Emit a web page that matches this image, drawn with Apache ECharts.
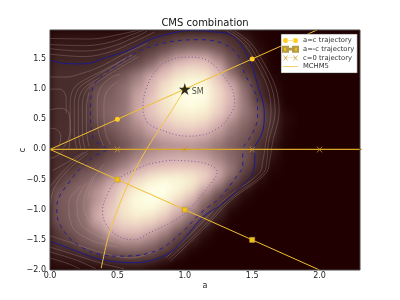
<!DOCTYPE html>
<html>
<head>
<meta charset="utf-8">
<style>html,body{margin:0;padding:0;background:#fff}#c{width:400px;height:300px}</style>
<script src="https://cdn.jsdelivr.net/npm/echarts@6/dist/echarts.min.js"></script>
</head>
<body>
<div id="c"></div>
<script>
const titleText = 'CMS combination';
const xTicks = [0, 0.5, 1, 1.5, 2];
const aCells = ['0.05','0.15','0.25','0.35','0.45','0.55','0.65','0.75','0.85','0.95','1.05','1.15','1.25','1.35','1.45','1.55','1.65','1.75','1.85','1.95','2.05','2.15','2.25'];
const cCells = ['-1.95','-1.85','-1.75','-1.65','-1.55','-1.45','-1.35','-1.25','-1.15','-1.05','-0.95','-0.85','-0.75','-0.65','-0.55','-0.45','-0.35','-0.25','-0.15','-0.05','0.05','0.15','0.25','0.35','0.45','0.55','0.65','0.75','0.85','0.95','1.05','1.15','1.25','1.35','1.45','1.55','1.65','1.75','1.85','1.95'];
// intensity cells, rows top (c=1.95) to bottom (c=0.05); columns a=0.05, 0.15, ...
const zUpper = [
[3,3,3,3,3,3,4,6,9,12,13,13,12,8,3,1],
[4,4,4,4,4,5,7,10,14,20,22,22,20,12,5,1],
[5,5,5,5,6,8,10,14,20,27,30,29,25,15,8,2],
[6,6,6,6,7,10,14,20,28,36,40,38,31,20,9,3],
[7,7,7,7,10,12,18,26,38,52,59,58,42,26,11,4],
[8,8,8,9,11,15,24,34,50,64,70,68,52,30,13,4],
[9,9,10,10,14,24,30,42,62,74,80,78,63,34,16,6],
[10,10,11,12,22,30,42,58,68,82,88,86,68,38,20,7,1],
[10,11,11,14,26,33,44,60,78,90,96,93,72,53,29,10,2],
[10,10,12,26,30,37,50,64,82,94,99,96,78,58,34,12,3],
[10,10,12,27,31,38,54,66,85,96,100,98,80,62,37,14,4],
[10,10,12,27,31,38,56,70,86,97,100,98,80,63,38,15,4],
[10,10,13,28,33,38,56,70,84,94,98,94,78,60,40,24,7],
[10,11,14,27,34,40,58,70,82,91,94,90,76,58,40,26,9,1],
[10,11,14,27,33,39,54,68,78,86,88,84,70,54,38,28,12,2],
[11,11,14,24,32,38,50,60,72,80,82,78,62,46,34,26,10,2],
[11,12,13,20,28,36,46,58,66,72,74,68,56,42,32,22,9,1],
[11,12,12,18,26,33,42,52,60,65,66,62,50,38,30,20,8,1],
[11,11,12,14,22,30,38,46,52,56,57,52,44,34,28,16,6,1],
[11,11,11,13,20,26,36,42,46,48,48,45,38,32,24,12,4]
];
// rows top (c=-0.05) to bottom (c=-1.95)
const zLower = [
[11,11,11,14,24,32,42,50,54,55,54,50,42,34,28,12,4],
[11,11,12,19,28,36,46,54,60,62,60,56,46,35,27,11,3],
[11,11,18,26,33,42,54,60,64,66,66,62,50,38,25,9,2],
[12,16,27,30,38,50,62,72,78,80,78,72,58,40,20,7,1],
[14,24,30,36,48,60,74,84,90,90,86,76,56,34,14,4],
[16,28,33,42,57,70,84,94,99,96,88,70,48,26,9,2],
[26,31,36,48,62,78,90,98,100,94,82,58,36,16,5,1],
[28,32,38,52,64,82,95,100,98,88,72,46,26,10,2],
[29,32,38,50,68,86,97,100,94,80,62,36,20,6,1],
[28,31,38,55,70,86,96,97,88,68,52,30,13,3],
[27,31,37,58,72,85,92,90,78,60,42,26,9,1],
[28,31,37,58,70,82,86,82,70,52,34,18,5],
[24,30,36,52,68,76,78,72,58,42,26,10,2],
[18,28,33,44,60,68,68,60,48,30,16,4],
[15,24,31,38,50,58,60,50,38,24,10,2],
[13,18,29,33,40,46,46,40,30,16,5,1],
[12,13,21,29,33,36,36,32,22,8,2],
[5,6,10,14,22,28,28,24,12,4],
[4,4,5,6,9,12,12,8,4,1],
[3,3,3,4,5,6,6,3,1]
];
// blue likelihood contours
const solidUpper = [[0,1.48],[0.15,1.42],[0.26,1.42],[0.41,1.52],[0.59,1.65],[0.74,1.82],[0.89,1.92],[1.04,1.97],[1.22,1.95],[1.36,1.87],[1.48,1.48],[1.54,1.07],[1.59,0.6],[1.58,0.32],[1.51,0.02]];
const solidLower = [[0,-1.52],[0.19,-1.68],[0.37,-1.82],[0.62,-1.88],[0.87,-1.74],[0.99,-1.5],[1.13,-1.13],[1.26,-0.93],[1.41,-0.63],[1.51,-0.35],[1.52,-0.1],[1.51,0.02]];
const dashedUpper = [[0.42,0.02],[0.32,0.2],[0.3,0.65],[0.32,1.03],[0.5,1.4],[0.74,1.7],[1.11,1.82],[1.36,1.65],[1.45,1.23],[1.54,0.77],[1.54,0.53],[1.43,0.03]];
const dashedLower = [[0.42,-0.02],[0.32,-0.13],[0.15,-0.52],[0.05,-0.97],[0.07,-1.23],[0.24,-1.63],[0.5,-1.77],[0.79,-1.68],[0.99,-1.35],[1.11,-1.07],[1.26,-0.8],[1.39,-0.43],[1.43,-0.27],[1.43,-0.02]];
const dottedUpper = [[0.72,0.45],[0.69,0.65],[0.71,0.98],[0.79,1.32],[0.89,1.48],[1.02,1.53],[1.11,1.52],[1.31,1.15],[1.37,0.77],[1.32,0.52],[1.26,0.37],[1.11,0.23],[1.02,0.22],[0.79,0.35],[0.72,0.45]];
const dottedLower = [[0.89,-0.18],[0.74,-0.24],[0.67,-0.3],[0.5,-0.5],[0.43,-0.73],[0.39,-1.02],[0.41,-1.22],[0.5,-1.43],[0.62,-1.5],[0.74,-1.38],[0.89,-1.22],[1.02,-1.02],[1.21,-0.52],[1.24,-0.38],[1.13,-0.22],[0.89,-0.18]];
// pale background contours
const paleContours = [
[[0,1.84],[0.3,1.83],[0.5,1.9],[0.66,1.98]],
[[0,1.74],[0.25,1.72],[0.45,1.78],[0.6,1.9],[0.7,1.98]],
[[0,1.67],[0.25,1.63],[0.45,1.7],[0.62,1.85],[0.72,1.96]],
[[0,1.58],[0.25,1.54],[0.45,1.62],[0.62,1.78],[0.78,1.95]],
[[0,1.2],[0.12,1.2],[0.22,1.25],[0.36,1.36],[0.55,1.58],[0.72,1.76]],
[[0.14,0],[0.15,0.3],[0.15,0.75],[0.18,1.02],[0.28,1.18],[0.42,1.34],[0.6,1.56]],
[[0.2,0],[0.18,0.3],[0.18,0.7],[0.21,1],[0.31,1.17],[0.45,1.36],[0.62,1.58]],
[[0.23,0],[0.21,0.3],[0.21,0.7],[0.24,0.98],[0.34,1.15],[0.47,1.34],[0.64,1.56]],
[[0.26,0],[0.24,0.3],[0.24,0.7],[0.27,0.98],[0.37,1.14],[0.5,1.33],[0.66,1.54]],
[[0.29,0.05],[0.27,0.35],[0.27,0.7],[0.29,0.94]],
[[0.4,0.05],[0.36,0.3],[0.35,0.7],[0.37,1.0],[0.46,1.2],[0.52,1.24]],
[[0.45,0.08],[0.41,0.3],[0.4,0.7],[0.42,0.95],[0.5,1.12]],
[[0,0.66],[0.08,0.68],[0.14,0.6],[0.15,0.3],[0.1,0.03]],
[[0,0.35],[0.05,0.33],[0.08,0.2],[0.06,0.02]],
[[0,1],[0.07,1],[0.12,0.85],[0.12,0.6]],
[[1.36,1.98],[1.53,1.65],[1.7,0.65],[1.65,0.1],[1.63,-0.18],[1.6,-0.4],[1.34,-0.85],[1.14,-1.32],[0.89,-1.86]],
[[1.33,1.98],[1.5,1.66],[1.67,0.65],[1.62,0.1],[1.61,-0.18],[1.58,-0.4],[1.32,-0.85],[1.12,-1.32],[0.88,-1.82]],
[[1.3,1.98],[1.47,1.66],[1.64,0.65],[1.6,0.1],[1.58,-0.18],[1.55,-0.4],[1.3,-0.82],[1.1,-1.28],[0.86,-1.8]],
[[0,-1.62],[0.2,-1.76],[0.4,-1.9],[0.55,-1.98]],
[[0,-1.7],[0.2,-1.84],[0.34,-1.98]],
[[0,-1.8],[0.14,-1.9],[0.22,-1.98]],
[[0,-1.43],[0.2,-1.58],[0.4,-1.72],[0.6,-1.8],[0.8,-1.66]],
[[0.02,-0.35],[0.1,-0.25],[0.25,-0.05]],
[[0,-0.62],[0.09,-0.38],[0.2,-0.15],[0.28,-0.03]],
[[0,-0.15],[0.06,-0.1],[0.1,-0.02]],
[[0,-0.95],[0.03,-0.65],[0.13,-0.35],[0.28,-0.07]],
[[0.23,-0.6],[0.14,-0.9],[0.16,-1.25],[0.3,-1.5],[0.5,-1.62]],
[[0.27,-0.55],[0.2,-0.9],[0.22,-1.2],[0.34,-1.42],[0.52,-1.55]],
[[0.32,-0.45],[0.25,-0.9],[0.28,-1.15],[0.38,-1.35]],
[[0.4,-0.25],[0.32,-0.5],[0.28,-0.82]]
];
// trajectories
const ac = [[0,0],[0.5,0.5],[1,1],[1.5,1.5],[2,2]];
const amc = [[0,0],[0.5,-0.5],[1,-1],[1.5,-1.5],[2,-2]];
const c0 = [[0,0],[0.5,0],[1,0],[1.5,0],[2,0],[2.6,0]];
const mchm5 = [[0.38,-1.97],[0.445,-1.35],[0.58,-0.57],[0.71,-0.02],[0.89,0.6],[1,1]];
const smPoint = [[1,1]];

const heat = [];
zUpper.forEach((row, i) => row.forEach((v, j) => heat.push([j, 39 - i, v])));
zLower.forEach((row, i) => row.forEach((v, j) => heat.push([j, 19 - i, v])));

const lineBase = {type:'line', xAxisIndex:0, yAxisIndex:0, zlevel:1, silent:true, symbol:'none', animation:false};
const pale = paleContours.map(d => Object.assign({}, lineBase, {data:d, smooth:0.4, z:2, lineStyle:{color:'rgba(190,165,155,0.42)', width:0.7}}));
const blue = (d, w, type, color) => Object.assign({}, lineBase, {data:d, smooth:0.4, z:3, lineStyle:{color:color, width:w, type:type}});
const mark = (d, sym, last) => d.map(p => ({value:p, symbol:(p[0] === 0 || p[0] > last) ? 'none' : sym}));

const iconCirc = 'path://M0 2.5a2.5 2.5 0 1 0 5 0a2.5 2.5 0 1 0 -5 0ZM10 2.5a2.5 2.5 0 1 0 5 0a2.5 2.5 0 1 0 -5 0ZM4 2.15H11V2.85H4Z';
const iconSq = 'path://M0 0H5V5H0ZM10 0H15V5H10ZM4 2.15H11V2.85H4Z';
const iconX = 'path://M0 0L.6 0L2.5 2L4.4 0L5 0L2.9 2.5L5 5L4.4 5L2.5 3L.6 5L0 5L2.1 2.5ZM10 0L10.6 0L12.5 2L14.4 0L15 0L12.9 2.5L15 5L14.4 5L12.5 3L10.6 5L10 5L12.1 2.5ZM2 2.3H13V2.7H2Z';
const iconL = 'path://M0 0L.01 0L0 0ZM0 2.2H15V2.8H0ZM0 5L.01 5L0 5Z';

const fmt = v => v.toFixed(1).replace('-', '\u2212');
const chart = echarts.init(document.getElementById('c'), null, {renderer:'canvas'});
chart.setOption({
  animation:false,
  backgroundColor:'transparent',
  textStyle:{fontFamily:'DejaVu Sans'},
  title:{text:titleText, left:205, top:18, textAlign:'center', zlevel:1, textStyle:{fontFamily:'DejaVu Sans', fontSize:10, fontWeight:'normal', color:'#111'}, padding:0},
  grid:{left:50, right:40, top:30, bottom:30, show:true, backgroundColor:'transparent', borderColor:'#444', borderWidth:1, zlevel:1, z:20},
  xAxis:[
    {type:'value', min:0, max:2.3, interval:0.5, zlevel:1, name:'a', nameLocation:'middle', nameGap:12, nameMoveOverlap:false, nameTextStyle:{fontSize:8, color:'#222', fontFamily:'DejaVu Sans'},
     axisLine:{show:false}, axisTick:{show:false}, splitLine:{show:false},
     axisLabel:{formatter:v=>xTicks.includes(v)?fmt(v):'', fontSize:8, color:'#222', margin:2, fontFamily:'DejaVu Sans', showMaxLabel:false}},
    {type:'category', data:aCells, show:false, gridIndex:0}
  ],
  yAxis:[
    {type:'value', min:-2, max:1.98, interval:0.5, zlevel:1, name:'c', nameLocation:'middle', nameGap:23, nameMoveOverlap:false, nameRotate:90, nameTextStyle:{fontSize:8, color:'#222', fontFamily:'DejaVu Sans'},
     axisLine:{show:false}, axisTick:{show:false}, splitLine:{show:false},
     axisLabel:{formatter:fmt, fontSize:8, color:'#222', margin:4, fontFamily:'DejaVu Sans', showMaxLabel:false}},
    {type:'category', data:cCells, show:false, gridIndex:0}
  ],
  visualMap:{show:false, type:'continuous', seriesIndex:0, min:0, max:100, dimension:2,
    inRange:{color:['#200000','#452a2a','#543838','#6b4d4d','#846464','#9c7c7c','#b89494','#d0aaaa','#e0bcb8','#ecd0c4','#f3e2c8','#f9f3d2','#ffffe8']}},
  legend:{orient:'vertical', left:281, top:34, padding:[3,3,3,1], itemWidth:15, itemHeight:5, itemGap:1.7, selectedMode:false, zlevel:1, z:30,
    backgroundColor:'#fff', borderColor:'#333', borderWidth:0.5, textStyle:{fontSize:6.8, color:'#333', fontFamily:'DejaVu Sans', padding:[0,0,0,0]},
    data:[{name:'a=c trajectory', icon:iconCirc},{name:'a=-c trajectory', icon:iconSq},{name:'c=0 trajectory', icon:iconX},{name:'MCHM5', icon:iconL}]},
  series:[
    {type:'heatmap', xAxisIndex:1, yAxisIndex:1, data:heat, zlevel:0, progressive:0, silent:true, emphasis:{disabled:true}, itemStyle:{borderWidth:0}},
    ...pale,
    blue(solidUpper,1,'solid','#1c1a8a'), blue(solidLower,1,'solid','#1c1a8a'),
    blue(dashedUpper,1,[4,4],'#24208f'), blue(dashedLower,1,[4,4],'#24208f'),
    blue(dottedUpper,1,[1,2.4],'#7a5aa5'), blue(dottedLower,1,[1,2.4],'#7a5aa5'),
    Object.assign({}, lineBase, {name:'MCHM5', data:mchm5, smooth:0.3, z:5, lineStyle:{color:'#f3c447', width:1}, itemStyle:{color:'#f3c447'}}),
    Object.assign({}, lineBase, {name:'c=0 trajectory', data:mark(c0,'path://M0 0L1 0L5 4.2L9 0L10 0L5.8 5L10 10L9 10L5 5.8L1 10L0 10L4.2 5Z',2.1), symbolSize:6, z:6, lineStyle:{color:'#dba928', width:1.2}, itemStyle:{color:'#c79a2a'}}),
    Object.assign({}, lineBase, {name:'a=c trajectory', data:mark(ac,'circle',1.9), symbolSize:5, z:7, lineStyle:{color:'#f0bf30', width:1}, itemStyle:{color:'#ffcc1f'}}),
    Object.assign({}, lineBase, {name:'a=-c trajectory', data:mark(amc,'rect',1.9), symbolSize:5, z:7, lineStyle:{color:'#f0bf30', width:1}, itemStyle:{color:'#f5c214', borderColor:'#b59a45', borderWidth:0.7}}),
    {type:'scatter', xAxisIndex:0, yAxisIndex:0, zlevel:1, z:9, silent:true, data:smPoint, symbolSize:12,
      symbol:'path://M0 -10L2.25 -3.09L9.51 -3.09L3.63 1.18L5.88 8.09L0 3.82L-5.88 8.09L-3.63 1.18L-9.51 -3.09L-2.25 -3.09Z',
      itemStyle:{color:'#000'}, label:{show:true, formatter:'SM', position:'right', distance:1, offset:[0,3], fontSize:8, color:'#222', fontFamily:'DejaVu Sans'}}
  ]
});
const base = document.querySelectorAll('#c canvas')[0];
if (base) {
  base.style.background = '#200000';
  base.style.filter = 'blur(4px)';
  base.style.clipPath = 'inset(30px 40px 30px 50px)';
}
</script>
</body>
</html>
